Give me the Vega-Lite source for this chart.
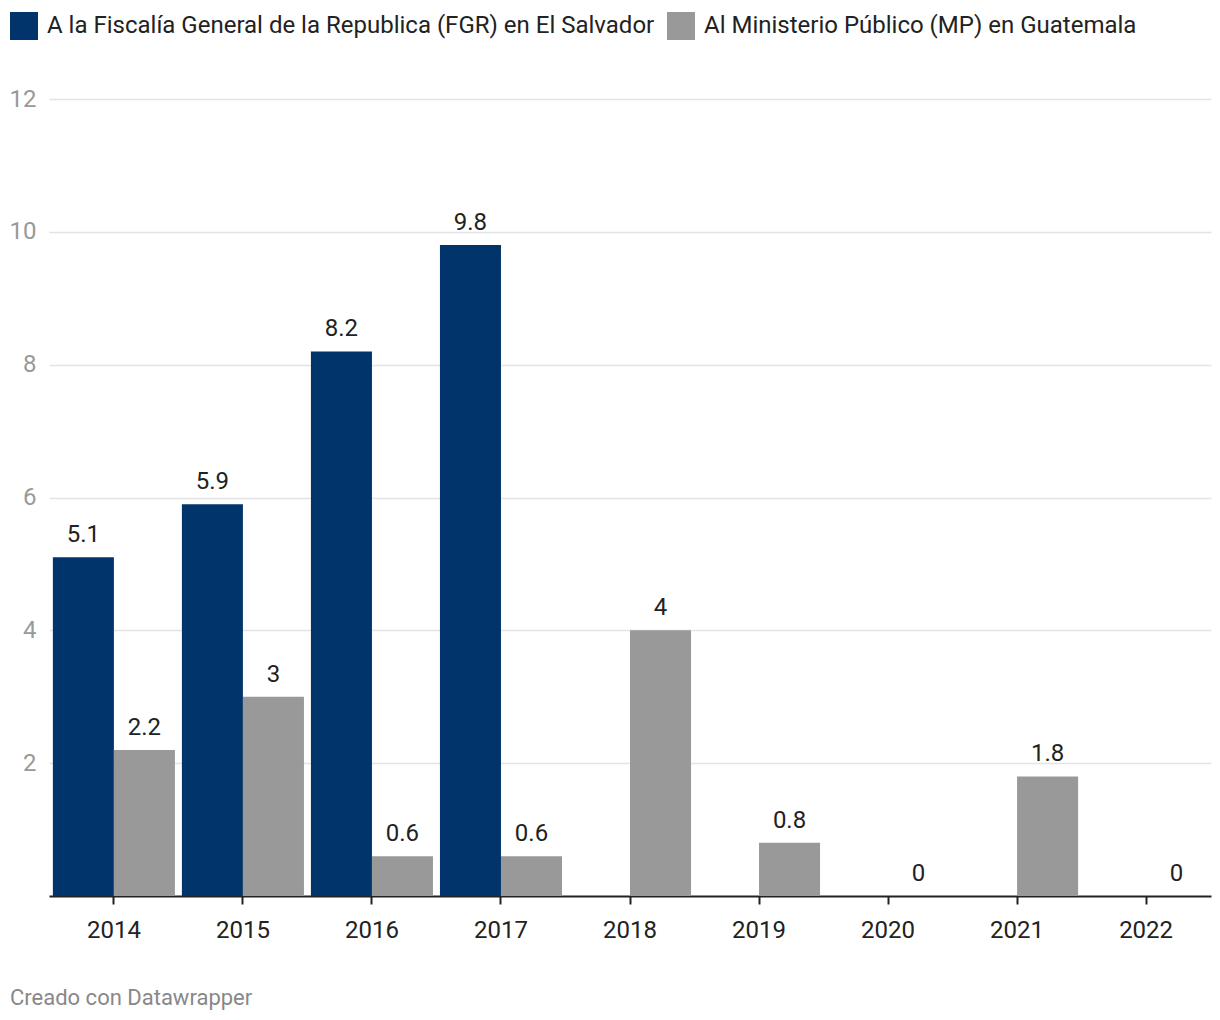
{
  "$schema": "https://vega.github.io/schema/vega-lite/v6.json",
  "autosize": "none",
  "width": 1162,
  "height": 797,
  "padding": {"left": 49, "top": 99, "right": 9, "bottom": 124},
  "background": "white",
  "config": {
    "font": "Roboto",
    "view": {"stroke": null}
  },
  "title": {
    "text": "Creado con Datawrapper",
    "orient": "bottom",
    "anchor": "start",
    "frame": "group",
    "dx": -39,
    "offset": 46,
    "fontSize": 22,
    "fontWeight": "normal",
    "color": "#888888",
    "font": "Roboto"
  },
  "data": {
    "values": [
      {"year": "2014", "serie": "A la Fiscalía General de la Republica (FGR) en El Salvador", "valor": 5.1},
      {"year": "2014", "serie": "Al Ministerio Público (MP) en Guatemala", "valor": 2.2},
      {"year": "2015", "serie": "A la Fiscalía General de la Republica (FGR) en El Salvador", "valor": 5.9},
      {"year": "2015", "serie": "Al Ministerio Público (MP) en Guatemala", "valor": 3},
      {"year": "2016", "serie": "A la Fiscalía General de la Republica (FGR) en El Salvador", "valor": 8.2},
      {"year": "2016", "serie": "Al Ministerio Público (MP) en Guatemala", "valor": 0.6},
      {"year": "2017", "serie": "A la Fiscalía General de la Republica (FGR) en El Salvador", "valor": 9.8},
      {"year": "2017", "serie": "Al Ministerio Público (MP) en Guatemala", "valor": 0.6},
      {"year": "2018", "serie": "Al Ministerio Público (MP) en Guatemala", "valor": 4},
      {"year": "2019", "serie": "Al Ministerio Público (MP) en Guatemala", "valor": 0.8},
      {"year": "2020", "serie": "Al Ministerio Público (MP) en Guatemala", "valor": 0},
      {"year": "2021", "serie": "Al Ministerio Público (MP) en Guatemala", "valor": 1.8},
      {"year": "2022", "serie": "Al Ministerio Público (MP) en Guatemala", "valor": 0}
    ]
  },
  "encoding": {
    "x": {
      "field": "year",
      "type": "nominal",
      "sort": null,
      "scale": {"paddingInner": 0.054, "paddingOuter": 0.03},
      "axis": {
        "title": null,
        "labelAngle": 0,
        "labelFontSize": 24,
        "labelColor": "#222222",
        "labelPadding": 14,
        "domainColor": "#222222",
        "domainWidth": 2,
        "tickColor": "#222222",
        "tickWidth": 2,
        "tickSize": 8,
        "grid": false
      }
    },
    "xOffset": {
      "field": "serie",
      "type": "nominal",
      "scale": {
        "domain": ["A la Fiscalía General de la Republica (FGR) en El Salvador", "Al Ministerio Público (MP) en Guatemala"],
        "paddingInner": 0,
        "paddingOuter": 0
      }
    },
    "y": {
      "field": "valor",
      "type": "quantitative",
      "scale": {"domain": [0, 12], "nice": false},
      "axis": {
        "title": null,
        "values": [2, 4, 6, 8, 10, 12],
        "labelFontSize": 24,
        "labelColor": "#999999",
        "labelPadding": 13,
        "ticks": false,
        "domain": false,
        "gridColor": "#e3e3e3",
        "gridWidth": 1.5
      }
    }
  },
  "layer": [
    {
      "mark": {"type": "bar"},
      "encoding": {
        "color": {
          "field": "serie",
          "type": "nominal",
          "scale": {
            "domain": ["A la Fiscalía General de la Republica (FGR) en El Salvador", "Al Ministerio Público (MP) en Guatemala"],
            "range": ["#01346a", "#999999"]
          },
          "legend": {
            "title": null,
            "orient": "none",
            "legendX": -39,
            "legendY": -87,
            "direction": "horizontal",
            "symbolType": "square",
            "symbolSize": 784,
            "symbolStrokeWidth": 0,
            "symbolOpacity": 1,
            "labelFontSize": 24,
            "labelColor": "#222222",
            "labelLimit": 900,
            "labelOffset": 9,
            "columnPadding": 12
          }
        }
      }
    },
    {
      "mark": {"type": "text", "baseline": "bottom", "dy": -10, "fontSize": 24, "color": "#222222"},
      "encoding": {
        "text": {"field": "valor", "type": "quantitative"}
      }
    }
  ]
}
